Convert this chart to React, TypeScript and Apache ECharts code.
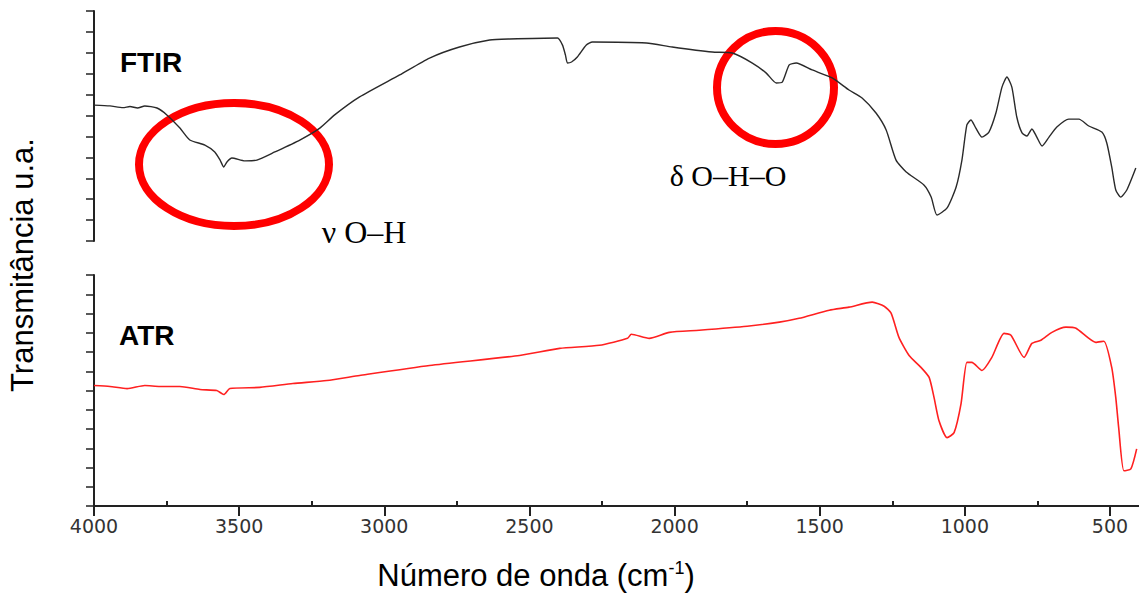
import React, { useEffect, useRef } from "react";
import * as echarts from "echarts";

// FTIR spectrum (wavenumber cm-1, transmittance a.u.)
const ftirWavenumber = [4000, 3945, 3900, 3876, 3850, 3825, 3783, 3749, 3704, 3670, 3618, 3584, 3566, 3553, 3542, 3525, 3480, 3439, 3377, 3291, 3222, 3171, 3085, 2947, 2844, 2741, 2637, 2569, 2403, 2386, 2376, 2369, 2355, 2335, 2304, 2283, 2097, 2008, 1870, 1801, 1732, 1684, 1650, 1629, 1605, 1581, 1526, 1457, 1399, 1354, 1306, 1271, 1237, 1202, 1141, 1116, 1096, 1061, 1030, 1010, 993, 979, 962, 941, 917, 893, 872, 855, 838, 821, 803, 786, 769, 752, 734, 710, 683, 642, 607, 573, 528, 511, 494, 480, 463, 442, 411];
const ftirValue = [6.5, 6.46, 6.38, 6.43, 6.36, 6.46, 6.36, 6.03, 5.4, 4.83, 4.59, 4.26, 3.88, 3.54, 3.78, 3.97, 3.83, 3.87, 4.26, 4.83, 5.4, 6.03, 6.89, 7.94, 8.75, 9.28, 9.61, 9.66, 9.71, 9.37, 8.9, 8.51, 8.56, 8.8, 9.37, 9.52, 9.47, 9.28, 9.04, 8.99, 8.51, 8.03, 7.56, 7.6, 8.42, 8.51, 8.18, 7.8, 7.22, 6.84, 6.12, 5.31, 3.87, 3.3, 2.68, 2.1, 1.24, 1.58, 2.58, 3.87, 5.55, 5.79, 5.4, 4.97, 5.21, 6.12, 7.36, 7.84, 7.36, 5.93, 5.17, 5.02, 5.36, 4.97, 4.54, 4.97, 5.45, 5.83, 5.83, 5.5, 5.21, 4.69, 3.54, 2.44, 2.1, 2.44, 3.49];

// ATR spectrum
const atrWavenumber = [4000, 3945, 3886, 3825, 3773, 3704, 3635, 3577, 3553, 3532, 3429, 3315, 3198, 3085, 2844, 2534, 2396, 2259, 2162, 2149, 2087, 2018, 1915, 1750, 1639, 1571, 1467, 1399, 1319, 1278, 1254, 1227, 1192, 1151, 1123, 1106, 1089, 1061, 1037, 1013, 993, 976, 941, 907, 865, 841, 796, 769, 738, 700, 652, 617, 549, 521, 494, 480, 470, 452, 428, 408];
const atrValue = [6.26, 6.21, 6.1, 6.26, 6.21, 6.21, 6.05, 6.0, 5.79, 6.1, 6.16, 6.36, 6.52, 6.78, 7.3, 7.82, 8.19, 8.35, 8.71, 8.92, 8.71, 9.02, 9.13, 9.34, 9.55, 9.75, 10.17, 10.33, 10.59, 10.38, 10.02, 8.76, 7.82, 7.2, 6.68, 5.63, 4.43, 3.55, 3.81, 5.32, 7.46, 7.46, 7.04, 7.72, 8.97, 8.87, 7.72, 8.45, 8.61, 9.02, 9.29, 9.23, 8.5, 8.56, 7.2, 5.63, 4.07, 1.83, 1.93, 2.97];

const xMajorTicks = [500, 1000, 1500, 2000, 2500, 3000, 3500, 4000];
const xMinorTicks = [750, 1250, 1750, 2250, 2750, 3250, 3750];

const zip = (a: number[], b: number[]) => a.map((v, i) => [v, b[i]]);

export default function App() {
  const ref = useRef<HTMLDivElement>(null);
  useEffect(() => {
    document.body.style.margin = "0";
    if (!ref.current) return;
    const chart = echarts.init(ref.current, null, { renderer: "svg" });
    const axisColor = "#222";
    const xBase = {
      type: "value",
      min: 400,
      max: 4000,
      inverse: true,
      splitLine: { show: false },
    };
    const yBase = {
      type: "value",
      splitLine: { show: false },
      axisLabel: { show: false },
    };
    chart.setOption({
      animation: false,
      grid: [
        { left: 94, top: 11, right: 0, height: 230 },
        { left: 94, top: 275, right: 0, height: 231 },
      ],
      xAxis: [
        { ...xBase, gridIndex: 0, show: false },
        {
          ...xBase,
          gridIndex: 1,
          axisLine: { show: true, lineStyle: { color: axisColor, width: 2 } },
          axisTick: { show: true, length: 10, customValues: xMajorTicks, lineStyle: { color: axisColor, width: 2 } },
          axisLabel: {
            show: true,
            customValues: xMajorTicks,
            formatter: (v: number) => String(v),
            margin: 10,
            fontFamily: "DejaVu Sans",
            fontSize: 19,
            color: "#333",
          },
        },
        {
          ...xBase,
          gridIndex: 1,
          axisLine: { show: false },
          axisTick: { show: true, length: 5, customValues: xMinorTicks, lineStyle: { color: axisColor, width: 2 } },
          axisLabel: { show: false },
        },
      ],
      yAxis: [
        {
          ...yBase, gridIndex: 0, min: 0, max: 11, interval: 1,
          axisLine: { show: true, lineStyle: { color: axisColor, width: 2 } },
          axisTick: { show: true, length: 8, lineStyle: { color: axisColor, width: 1.5 } },
        },
        {
          ...yBase, gridIndex: 0, min: 0, max: 11, interval: 2, inverse: true,
          axisLine: { show: false },
          axisTick: { show: true, length: 14, lineStyle: { color: axisColor, width: 1.5 } },
        },
        {
          ...yBase, gridIndex: 1, min: 0, max: 12, interval: 1,
          axisLine: { show: true, lineStyle: { color: axisColor, width: 2 } },
          axisTick: { show: true, length: 8, lineStyle: { color: axisColor, width: 1.5 } },
        },
        {
          ...yBase, gridIndex: 1, min: 0, max: 12, interval: 2,
          axisLine: { show: false },
          axisTick: { show: true, length: 14, lineStyle: { color: axisColor, width: 1.5 } },
        },
      ],
      series: [
        {
          name: "FTIR",
          type: "line",
          xAxisIndex: 0,
          yAxisIndex: 0,
          data: zip(ftirWavenumber, ftirValue),
          showSymbol: false,
          smooth: 0.2,
          lineStyle: { color: "#2a2a2a", width: 1.4 },
        },
        {
          name: "ATR",
          type: "line",
          xAxisIndex: 1,
          yAxisIndex: 2,
          data: zip(atrWavenumber, atrValue),
          showSymbol: false,
          smooth: 0.2,
          lineStyle: { color: "#ff2020", width: 1.6 },
        },
      ],
      graphic: [
        {
          type: "text", left: 120, top: 48,
          style: { text: "FTIR", font: "bold 28px 'Liberation Sans', Arial, sans-serif", fill: "#000" },
        },
        {
          type: "text", left: 119, top: 321,
          style: { text: "ATR", font: "bold 28px 'Liberation Sans', Arial, sans-serif", fill: "#000" },
        },
        {
          type: "ellipse",
          shape: { cx: 234, cy: 164.5, rx: 95, ry: 61.5 },
          style: { fill: "none", stroke: "#ff0000", lineWidth: 8 },
        },
        {
          type: "ellipse",
          shape: { cx: 775.5, cy: 87.5, rx: 58.5, ry: 56.5 },
          style: { fill: "none", stroke: "#ff0000", lineWidth: 8 },
        },
        {
          type: "text", x: 364, y: 232,
          style: { text: "ν O–H", font: "32px 'Liberation Serif', 'Times New Roman', serif", fill: "#000", textAlign: "center", textVerticalAlign: "middle" },
        },
        {
          type: "text", x: 728, y: 175,
          style: { text: "δ O–H–O", font: "30px 'Liberation Serif', 'Times New Roman', serif", fill: "#000", textAlign: "center", textVerticalAlign: "middle" },
        },
        {
          type: "text", x: 22, y: 265, rotation: Math.PI / 2,
          style: { text: "Transmitância u.a.", font: "31px 'Liberation Sans', Arial, sans-serif", fill: "#000", textAlign: "center", textVerticalAlign: "middle" },
        },
        {
          type: "text", x: 536, y: 575,
          style: {
            text: "Número de onda (cm{sup|-1})",
            font: "31px 'Liberation Sans', Arial, sans-serif",
            fill: "#000",
            textAlign: "center",
            textVerticalAlign: "middle",
            rich: {
              sup: { fontSize: 18, fontFamily: "Liberation Sans", fill: "#000", verticalAlign: "top", padding: [0, 0, 14, 0] },
            },
          },
        },
      ],
    });
    return () => chart.dispose();
  }, []);
  return <div ref={ref} style={{ width: 1139, height: 594 }} />;
}
